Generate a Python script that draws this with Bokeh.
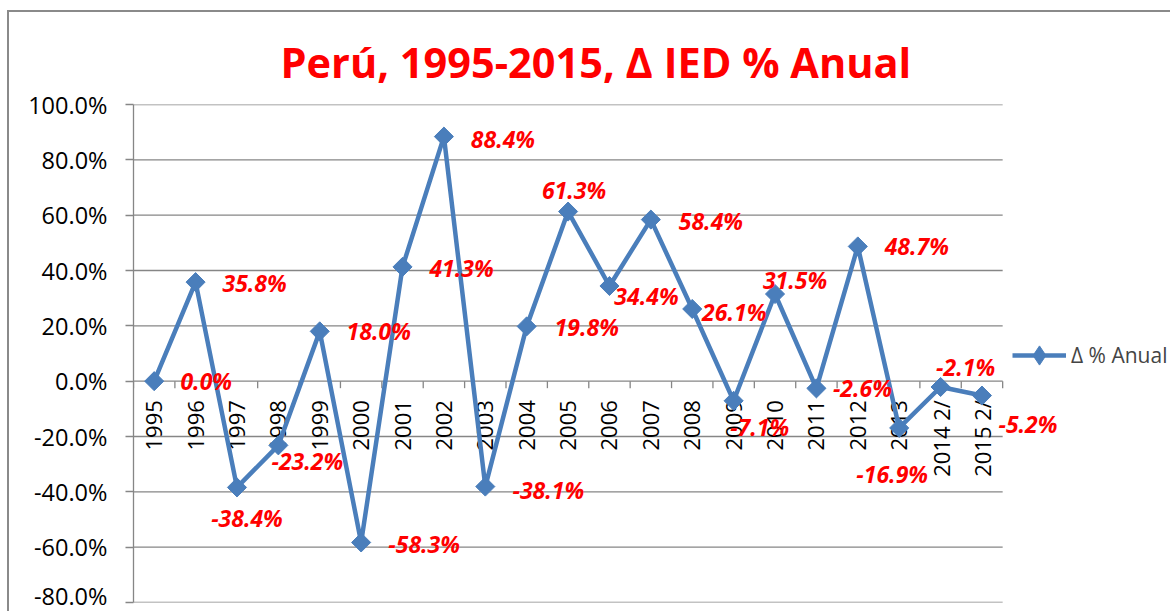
import math
import numpy as np
from bokeh.plotting import figure
from bokeh.models import (ColumnDataSource, FixedTicker, PrintfTickFormatter, Legend,
                          LegendItem, Range1d)
from bokeh.core.properties import value
from bokeh.embed import file_html
from bokeh.resources import INLINE

# ---------------- data ----------------
years = ["1995", "1996", "1997", "1998", "1999", "2000", "2001", "2002", "2003", "2004",
         "2005", "2006", "2007", "2008", "2009", "2010", "2011", "2012", "2013",
         "2014 2/", "2015 2/"]
pct = [0.0, 35.8, -38.4, -23.2, 18.0, -58.3, 41.3, 88.4, -38.1, 19.8,
       61.3, 34.4, 58.4, 26.1, -7.1, 31.5, -2.6, 48.7, -16.9, -2.1, -5.2]
pct_labels = [f"{v:.1f}%" for v in pct]
y_ticks = [-80, -60, -40, -20, 0, 20, 40, 60, 80, 100]
series_name = "Δ % Anual"
title_text = "Perú, 1995-2015, Δ IED  % Anual"

# label placement (pixels; dx right, dy down)
label_dx = [52, 59, 10, 29, 59, 63, 59, 59, 63, 60, 6, 37, 60, 42, 26, 20, 46, 59, -7, 25, 46]
label_dy = [0, 1, 31, 16, 0, 2, 1, 2, 3, 1, -22, 10, 1, 3, 26, -14, 0, 0, 46, -20, 28]

BLUE = "#4A7EBB"
RED = "#FF0000"
GRAY = "#868686"
FONT = "Open Sans"

n = len(years)
idx = list(range(n))
src = ColumnDataSource(dict(x=idx, y=pct, lab=pct_labels, cat=years,
                            dx=label_dx, dy=label_dy, zero=[0] * n))

# plot area spans the categories; the frame continues to the right edge (legend area)
cat_px = 870 / n
extra_units = 170 / cat_px
p = figure(width=1163, height=601,
           x_range=Range1d(-0.5, n - 0.5 + extra_units),
           y_range=Range1d(y_ticks[0], y_ticks[-1]),
           output_backend="svg", toolbar_location=None,
           min_border_left=124, min_border_right=0, min_border_top=92,
           min_border_bottom=11)
p.outline_line_color = None
p.background_fill_color = "white"
p.border_fill_color = "white"
p.styles = {"position": "relative", "top": "10px", "left": "7px",
            "border-top": "2px solid #8a8a8a", "border-left": "2px solid #8a8a8a"}

# title
p.title.text = title_text
p.title.text_color = RED
p.title.text_font = FONT
p.title.text_font_style = "bold"
p.title.text_font_size = "41.5px"
p.title.align = "left"
p.title.offset = 147
p.title.standoff = 30

# axes
p.xaxis.visible = False
p.xgrid.visible = False
p.ygrid.visible = False
yax = p.yaxis[0]
yax.ticker = FixedTicker(ticks=y_ticks)
yax.formatter = PrintfTickFormatter(format="%.1f%%")
yax.axis_line_color = GRAY
yax.axis_line_width = 1.3
yax.major_tick_line_color = GRAY
yax.major_tick_line_width = 1.3
yax.major_tick_out = 8
yax.major_tick_in = 0
yax.minor_tick_line_color = None
yax.major_label_standoff = 18
yax.major_label_text_font = FONT
yax.major_label_text_font_size = "23.5px"
yax.major_label_text_color = "black"

# horizontal gridlines over the plot area only
p.segment(x0=[-0.5] * len(y_ticks), x1=[n - 0.5] * len(y_ticks), y0=y_ticks, y1=y_ticks,
          line_color=GRAY, line_width=1.3)

# category ticks on the zero line (category boundaries)
bounds = [i - 0.5 for i in range(n + 1)]
p.ray(x=bounds, y=[0] * len(bounds), length=7, angle=-math.pi / 2,
      length_units="screen", line_color=GRAY, line_width=1.3)

# category labels
p.text(x="x", y="zero", text="cat", source=src, angle=math.pi / 2,
       text_align="right", text_baseline="middle", y_offset=19,
       text_font=value(FONT), text_font_size="22px", text_color="black")

# series
line_r = p.line(x="x", y="y", source=src, line_color=BLUE, line_width=4.5)
p.scatter(x="x", y="y", source=src, marker="square", angle=math.pi / 4, size=13.5,
          fill_color=BLUE, line_color=BLUE)

# data labels
p.text(x="x", y="y", text="lab", source=src, x_offset="dx", y_offset="dy",
       text_align="center", text_baseline="middle",
       text_font=value(FONT), text_font_size="23px",
       text_font_style="bold italic", text_color=RED)

# legend
dummy_src = ColumnDataSource(dict(x=[0], y=np.array([np.nan])))
dummy = p.scatter(x="x", y="y", source=dummy_src, marker="diamond", size=19,
                  fill_color=BLUE, line_color=BLUE)
legend = Legend(items=[LegendItem(label=series_name, renderers=[line_r, dummy])],
                location=(879, 223), glyph_width=54, glyph_height=48,
                label_text_font=FONT, label_text_font_size="21px",
                border_line_color=None, background_fill_alpha=0,
                padding=0, margin=0, label_standoff=5)
p.add_layout(legend)

open("out.html", "w").write(file_html(p, INLINE))
